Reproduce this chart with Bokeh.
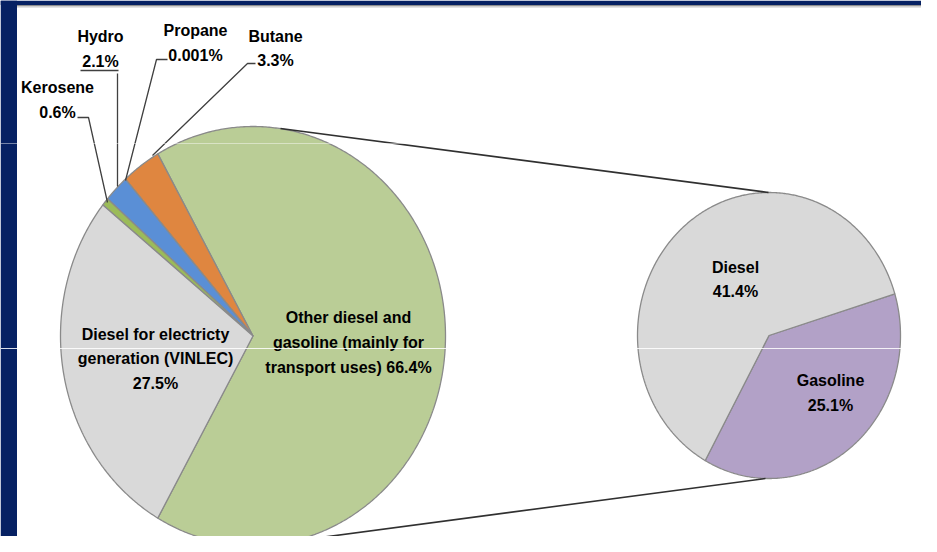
import numpy as np
from bokeh.plotting import figure
from bokeh.models import Range1d
from bokeh.core.properties import value
from bokeh.embed import file_html
from bokeh.resources import INLINE

# ---------------- data ----------------
main_names = ["Other diesel and\ngasoline (mainly for\ntransport uses)", "Butane", "Propane",
              "Hydro", "Kerosene", "Diesel for electricty\ngeneration (VINLEC)"]
main_values = [66.4, 3.3, 0.001, 2.1, 0.6, 27.5]
main_colors = ["#BACD96", "#DF8640", "#C0504D", "#5A8FD6", "#9BBB59", "#D9D9D9"]

sub_names = ["Gasoline", "Diesel"]
sub_values = [25.1, 41.4]
sub_colors = ["#B2A1C7", "#D9D9D9"]

# ---------------- layout (reference pixel coords) ----------------
W, H = 921, 536
REF_H = 552


def Y(yr):
    return REF_H - yr


p = figure(width=W, height=H, output_backend="svg", toolbar_location=None,
           x_range=Range1d(0, W), y_range=Range1d(REF_H - H, REF_H),
           min_border=0, outline_line_color=None, background_fill_color="white",
           border_fill_color="white")
p.axis.visible = False
p.grid.visible = False

# slide background: navy strip at left and top
p.quad(left=[0, 0], right=[16.5, W], bottom=[0, Y(4.5)], top=[REF_H, REF_H],
       fill_color="#062163", line_color=None)
p.multi_line(xs=[[16.5, W], [16.5, W]], ys=[[Y(5.2), Y(5.2)], [Y(6.4), Y(6.4)]],
             line_color=["#8E8E8E", "#C8C8C8"], line_width=1.2)


def ellipse_wedges(values, cx, cy, rx, ry, start_deg):
    total = float(sum(values))
    xs, ys = [], []
    a0 = start_deg
    for v in values:
        a1 = a0 + v / total * 360.0
        n = max(2, int(abs(a1 - a0) * 2) + 2)
        t = np.radians(np.linspace(a0, a1, n))
        xs.append([cx] + list(cx + rx * np.cos(t)))
        ys.append([cy] + list(cy + ry * np.sin(t)))
        a0 = a1
    return xs, ys


# main pie (ellipse, as in the stretched original)
mcx, mcy, mrx, mry = 252.5, Y(335.5), 192.5, 209.5
main_total = sum(main_values)
mstart = -main_values[0] / main_total * 180.0
mxs, mys = ellipse_wedges(main_values, mcx, mcy, mrx, mry, mstart)
p.patches(mxs, mys, fill_color=main_colors, line_color="#8A8A8A", line_width=1.3)

# secondary pie
scx, scy, srx, sry = 768.5, Y(335.0), 131.5, 143.0
sxs, sys_ = ellipse_wedges(sub_values, scx, scy, srx, sry, -119.0)
p.patches(sxs, sys_, fill_color=sub_colors, line_color="#8A8A8A", line_width=1.3)

# connector lines
p.multi_line(xs=[[280, 768], [290, 765]], ys=[[Y(128), Y(192)], [Y(541), Y(478)]],
             line_color="#303030", line_width=1.6)

# leader lines for small slices
lead_x = [[77, 88, 107], [80, 118], [117, 117], [167, 156, 125], [255, 247, 152]]
lead_y = [[Y(117), Y(117), Y(202)], [Y(70), Y(70)], [Y(73), Y(186)],
          [Y(59), Y(59), Y(180)], [Y(63), Y(63), Y(155)]]
p.multi_line(xs=lead_x, ys=lead_y, line_color="#404040", line_width=1.3)

# labels
main_pos = [(348, 342), (275, 48), (195, 42.5), (100, 48.5), (57, 99.5), (155, 358.5)]
main_labels = []
for i, (n, v) in enumerate(zip(main_names, main_values)):
    sep = " " if i == 0 else "\n"
    main_labels.append(f"{n}{sep}{v:g}%")
sub_pos = [(830, 392.5), (735, 279)]
sub_labels = [f"{n}\n{v:g}%" for n, v in zip(sub_names, sub_values)]

all_labels = main_labels + sub_labels
all_pos = main_pos + sub_pos
p.text(x=[q[0] for q in all_pos], y=[Y(q[1]) for q in all_pos], text=all_labels,
       text_font=value("Liberation Sans"), text_font_style="bold", text_font_size="16px",
       text_align="center", text_baseline="middle", text_line_height=1.45,
       text_color="#000000")

# faint horizontal lines from the slide template
p.multi_line(xs=[[0, W], [0, W]], ys=[[Y(143), Y(143)], [Y(348), Y(348)]],
             line_color=["#ffffff", "#ffffff"], line_alpha=[0.45, 0.85], line_width=1)

open("out.html", "w").write(file_html(p, INLINE))
